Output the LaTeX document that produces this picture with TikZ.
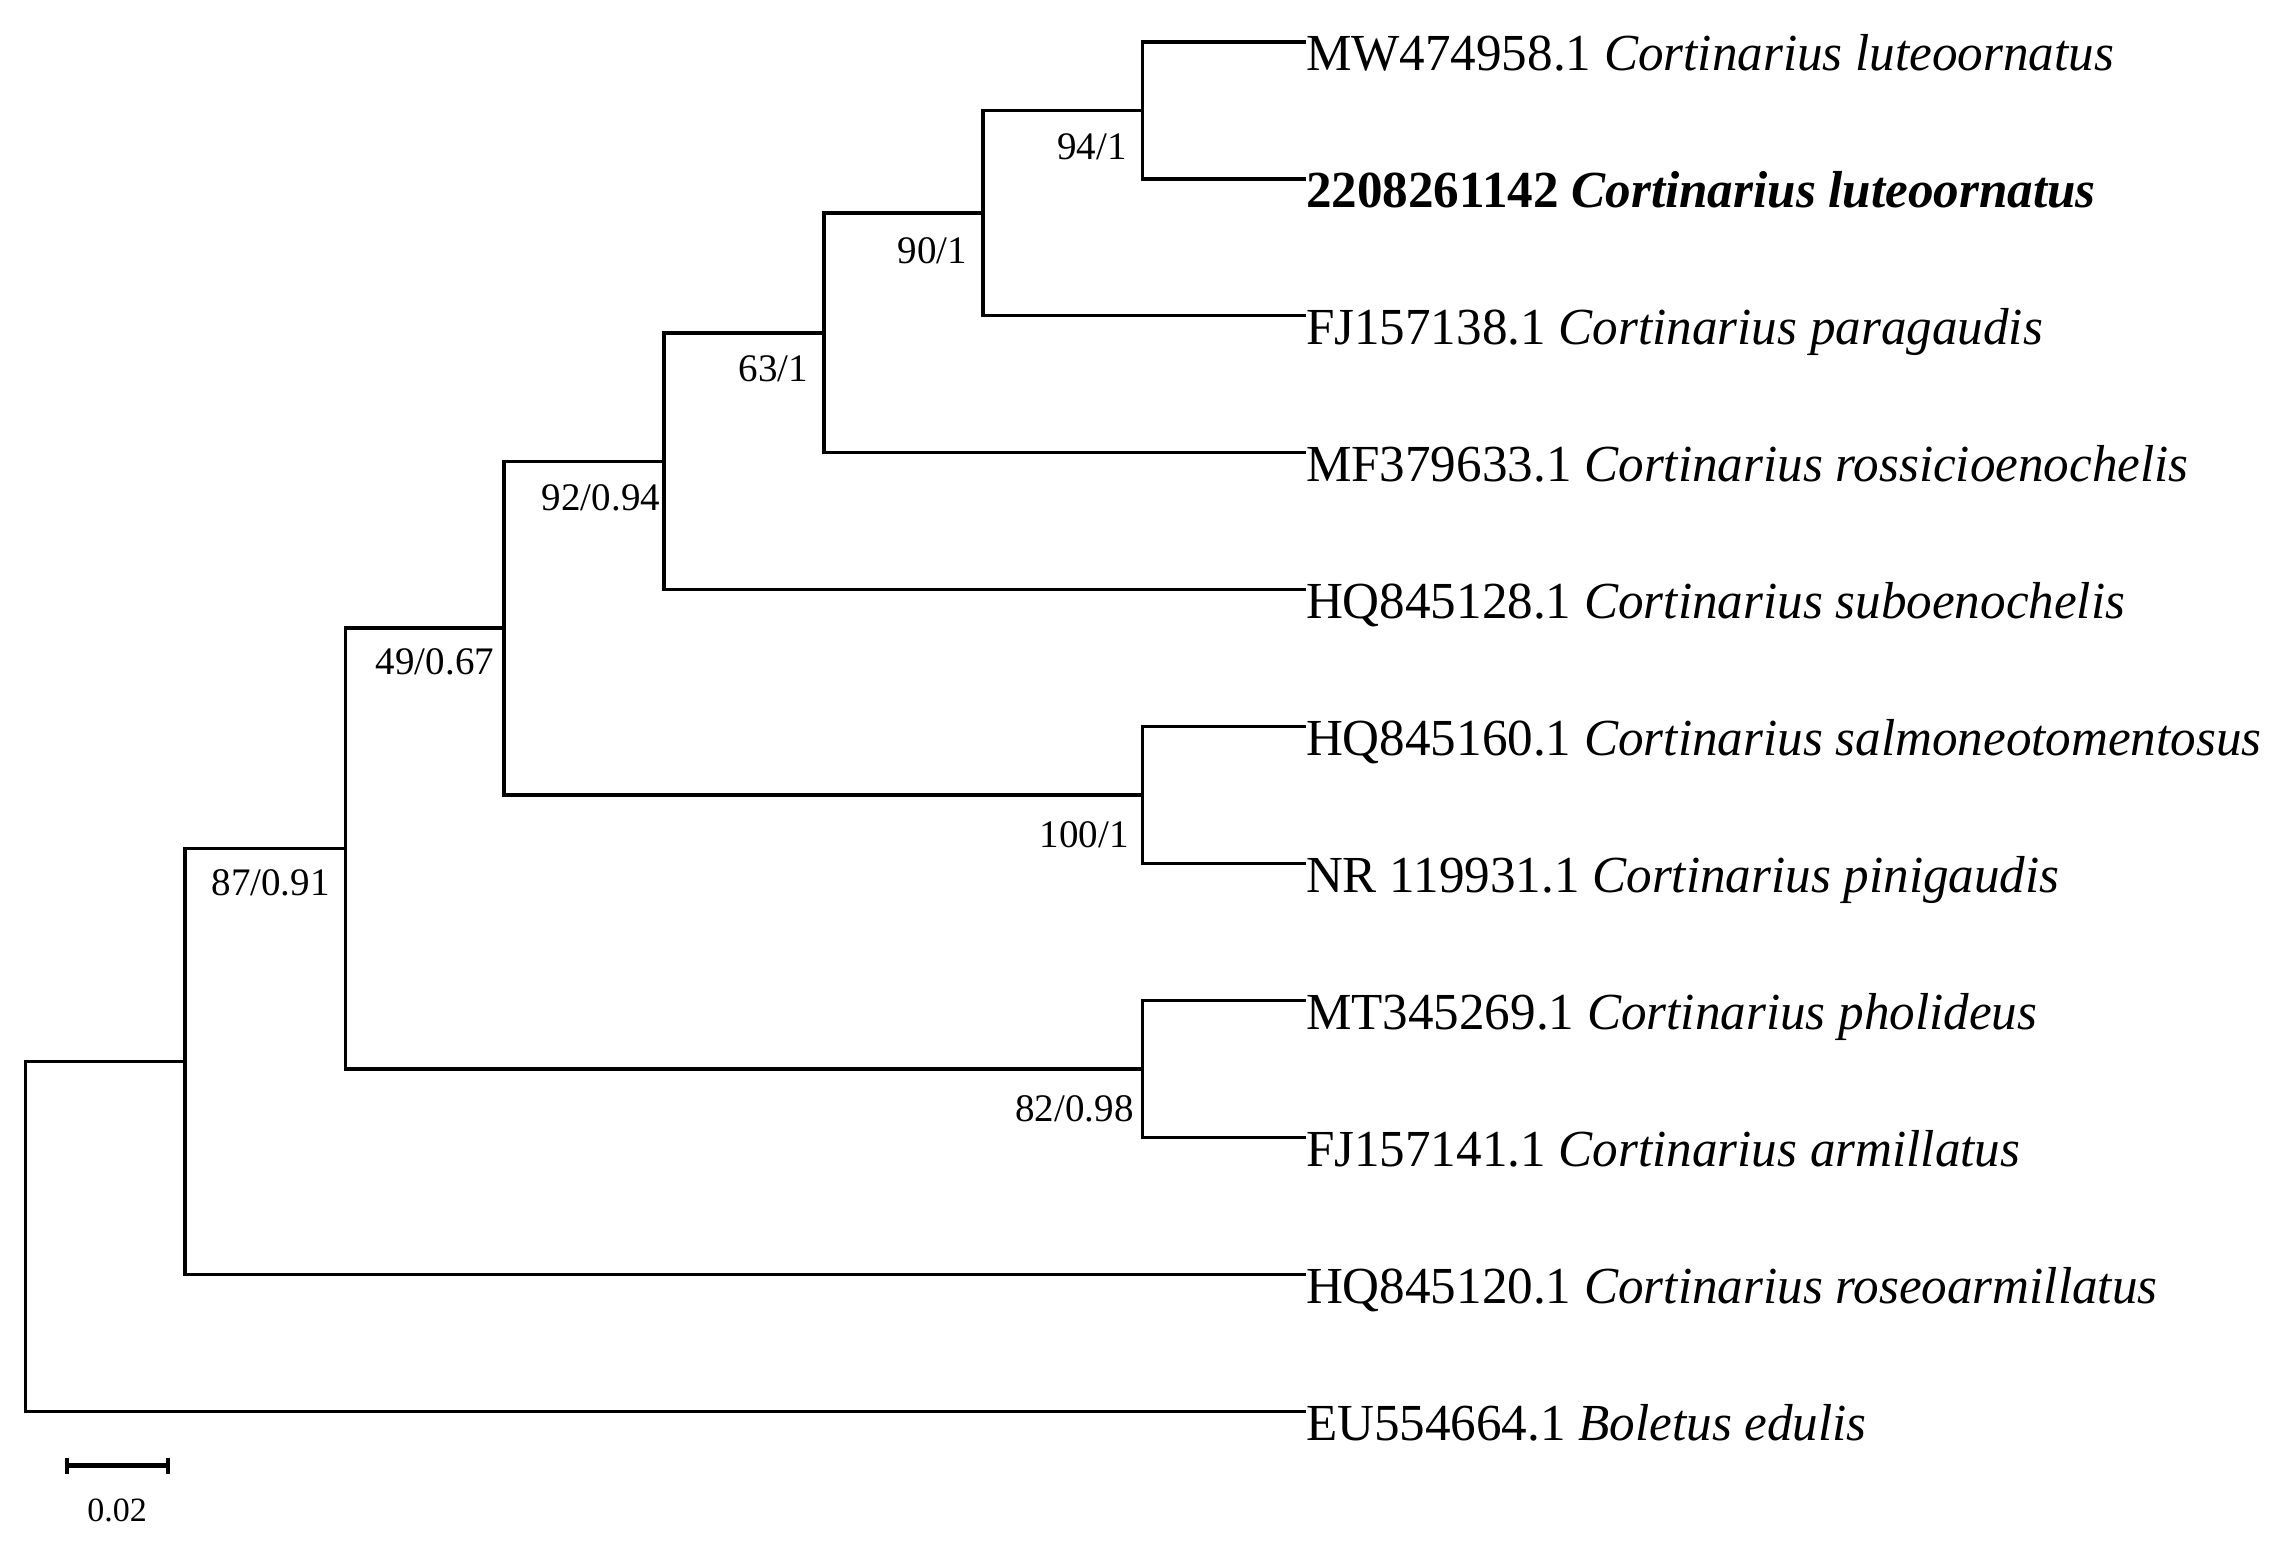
\documentclass[tikz,border=0pt]{standalone}
\usepackage{fontspec}
\setmainfont{Liberation Serif}
\begin{document}
\begin{tikzpicture}[x=1pt,y=-1pt,
  branch/.style={line width=3.5pt, line join=miter, line cap=rect},
  leaflab/.style={anchor=base west, inner sep=0pt, outer sep=0pt, xscale=0.983,
    font=\fontsize{52}{60}\selectfont},
  supp/.style={anchor=base east, inner sep=0pt, outer sep=0pt,
    font=\fontsize{39}{46}\selectfont},
  scalelab/.style={anchor=base, inner sep=0pt, font=\fontsize{34}{40}\selectfont}]
\useasboundingbox (0,0) rectangle (2278,1552);
% leaf tips
\coordinate (L0) at (1304,41.8);
\coordinate (L1) at (1304,178.8);
\coordinate (L2) at (1304,315.7);
\coordinate (L3) at (1304,452.7);
\coordinate (L4) at (1304,589.7);
\coordinate (L5) at (1304,726.7);
\coordinate (L6) at (1304,863.6);
\coordinate (L7) at (1304,1000.6);
\coordinate (L8) at (1304,1137.6);
\coordinate (L9) at (1304,1274.5);
\coordinate (L10) at (1304,1411.5);
% internal nodes
\coordinate (n1) at (1142.5,110.3);
\coordinate (n2) at (983,213.0);
\coordinate (n3) at (824,332.85);
\coordinate (n4) at (664,461.3);
\coordinate (n5) at (1142.5,795.15);
\coordinate (n6) at (504,628.2);
\coordinate (n7) at (1142.5,1069.1);
\coordinate (n8) at (345.7,848.65);
\coordinate (n9) at (185,1061.6);
\coordinate (root) at (25.7,1236.5);
% branches
\draw[branch] (n1) |- (L0);
\draw[branch] (n1) |- (L1);
\draw[branch] (n2) |- (n1);
\draw[branch] (n2) |- (L2);
\draw[branch] (n3) |- (n2);
\draw[branch] (n3) |- (L3);
\draw[branch] (n4) |- (n3);
\draw[branch] (n4) |- (L4);
\draw[branch] (n5) |- (L5);
\draw[branch] (n5) |- (L6);
\draw[branch] (n6) |- (n4);
\draw[branch] (n6) |- (n5);
\draw[branch] (n7) |- (L7);
\draw[branch] (n7) |- (L8);
\draw[branch] (n8) |- (n6);
\draw[branch] (n8) |- (n7);
\draw[branch] (n9) |- (n8);
\draw[branch] (n9) |- (L9);
\draw[branch] (root) |- (n9);
\draw[branch] (root) |- (L10);
% leaf labels
\path (L0) ++(2,29) node[leaflab] (t0) {MW474958.1 \textit{Cortinarius luteoornatus}};
\path (L1) ++(2,29) node[leaflab] (t1) {\textbf{2208261142 \textit{Cortinarius luteoornatus}}};
\path (L2) ++(2,29) node[leaflab] (t2) {FJ157138.1 \textit{Cortinarius paragaudis}};
\path (L3) ++(2,29) node[leaflab] (t3) {MF379633.1 \textit{Cortinarius rossicioenochelis}};
\path (L4) ++(2,29) node[leaflab] (t4) {HQ845128.1 \textit{Cortinarius suboenochelis}};
\path (L5) ++(2,29) node[leaflab] (t5) {HQ845160.1 \textit{Cortinarius salmoneotomentosus}};
\path (L6) ++(2,29) node[leaflab] (t6) {NR 119931.1 \textit{Cortinarius pinigaudis}};
\path (L7) ++(2,29) node[leaflab] (t7) {MT345269.1 \textit{Cortinarius pholideus}};
\path (L8) ++(2,29) node[leaflab] (t8) {FJ157141.1 \textit{Cortinarius armillatus}};
\path (L9) ++(2,29) node[leaflab] (t9) {HQ845120.1 \textit{Cortinarius roseoarmillatus}};
\path (L10) ++(2,29) node[leaflab] (t10) {EU554664.1 \textit{Boletus edulis}};
% support values
\path (n1) ++(-16,49) node[supp] (s1) {94/1};
\path (n2) ++(-16,50) node[supp] (s2) {90/1};
\path (n3) ++(-16,49) node[supp] (s3) {63/1};
\path (n4) ++(-4,49) node[supp] (s4) {92/0.94};
\path (n6) ++(-10,46) node[supp] (s6) {49/0.67};
\path (n8) ++(-16,47) node[supp] (s8) {87/0.91};
\path (n5) ++(-14,52) node[supp] (s5) {100/1};
\path (n7) ++(-9,52) node[supp] (s7) {82/0.98};
% scale bar
\coordinate (sbA) at (66.7,1465.7);
\coordinate (sbB) at (167.7,1465.7);
\draw[line width=5pt] (sbA) -- (sbB);
\draw[line width=4pt] (sbA) ++(0,-8) -- ++(0,16);
\draw[line width=4pt] (sbB) ++(0,-8) -- ++(0,16);
\path (sbA) -- (sbB) node[midway, yshift=-56pt, scalelab] (sbl) {0.02};
\end{tikzpicture}
\end{document}
